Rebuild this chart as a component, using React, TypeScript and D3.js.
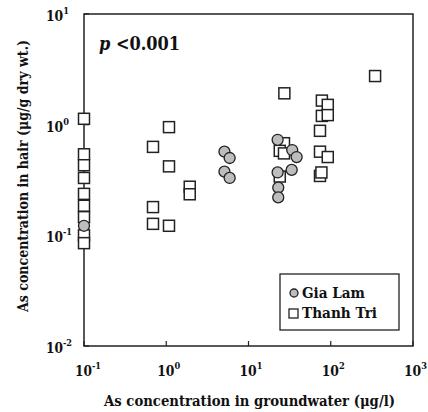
import { useEffect } from 'react'
import * as d3 from 'd3'

// Gia Lam (circles)
const giaLamX = [0.1, 5.1, 5.9, 5.1, 5.9, 22.6, 34, 38.5, 33.5, 22.6, 23, 23]
const giaLamY = [0.122, 0.57, 0.5, 0.376, 0.33, 0.73, 0.59, 0.51, 0.39, 0.37, 0.27, 0.22]

// Thanh Tri (squares)
const thanhTriX = [
  0.1, 0.1, 0.1, 0.1, 0.1, 0.1, 0.1, 0.1, 0.1,
  0.69, 1.08, 1.08, 1.93, 1.93, 0.69, 0.69, 1.08,
  27.3, 27, 24, 27, 24,
  78, 92, 78, 92, 74, 74, 92, 74, 77, 346,
]
const thanhTriY = [
  1.13, 0.54, 0.43, 0.33, 0.237, 0.185, 0.146, 0.1, 0.085,
  0.63, 0.95, 0.42, 0.275, 0.235, 0.18, 0.127, 0.122,
  1.92, 0.68, 0.58, 0.55, 0.34,
  1.65, 1.51, 1.2, 1.22, 0.88, 0.57, 0.51, 0.344, 0.37, 2.75,
]

const xTicks = [-1, 0, 1, 2, 3]
const yTicks = [1, 0, -1, -2]

const W = 428
const H = 412
const margin = { top: 14, right: 15, bottom: 66, left: 84 }
const font = "'DejaVu Serif', 'Liberation Serif', serif"

// "10" with a superscript exponent, squeezed to a Times-like width
function Pow({ x, y, e }: { x: number; y: number; e: number }) {
  const sup = String(e)
  return (
    <text
      x={x}
      y={y}
      fontSize={15}
      fontWeight="bold"
      fill="#111"
      textLength={sup.length > 1 ? 26 : 23}
      lengthAdjust="spacingAndGlyphs"
    >
      10<tspan dy={-7} fontSize={10}>{sup}</tspan>
    </text>
  )
}

export default function App() {
  useEffect(() => {
    document.body.style.margin = '0'
  }, [])

  const x = d3.scaleLog().domain([0.1, 1000]).range([margin.left, W - margin.right])
  const y = d3.scaleLog().domain([0.01, 10]).range([H - margin.bottom, margin.top])

  const sq = 11
  const r = 5.5

  return (
    <svg width={W} height={H} style={{ display: 'block', background: '#fff', fontFamily: font }}>
      {/* frame */}
      <rect
        x={x(0.1)}
        y={y(10)}
        width={x(1000) - x(0.1)}
        height={y(0.01) - y(10)}
        fill="none"
        stroke="#222"
        strokeWidth={1.5}
      />

      {/* x ticks */}
      {xTicks.map(e => (
        <g key={'x' + e}>
          <line x1={x(10 ** e)} x2={x(10 ** e)} y1={y(0.01)} y2={y(0.01) - 5} stroke="#222" strokeWidth={1.2} />
          <Pow x={x(10 ** e) - 9} y={376} e={e} />
        </g>
      ))}

      {/* y ticks */}
      {yTicks.map(e => (
        <g key={'y' + e}>
          <line x1={x(0.1)} x2={x(0.1) + 5} y1={y(10 ** e)} y2={y(10 ** e)} stroke="#222" strokeWidth={1.2} />
          <Pow x={46} y={y(10 ** e) + 7} e={e} />
        </g>
      ))}

      {/* Thanh Tri squares */}
      {thanhTriX.map((v, i) => (
        <rect
          key={'s' + i}
          x={x(v) - sq / 2}
          y={y(thanhTriY[i]) - sq / 2}
          width={sq}
          height={sq}
          fill="#fff"
          stroke="#222"
          strokeWidth={1.5}
        />
      ))}

      {/* Gia Lam circles */}
      {giaLamX.map((v, i) => (
        <circle
          key={'c' + i}
          cx={x(v)}
          cy={y(giaLamY[i])}
          r={r}
          fill="#bdbdbd"
          stroke="#222"
          strokeWidth={1.3}
        />
      ))}

      {/* p value */}
      <text x={99} y={50} fontSize={18} fontWeight="bold" fill="#111" textLength={81} lengthAdjust="spacingAndGlyphs">
        <tspan fontStyle="italic">p</tspan> &lt;0.001
      </text>

      {/* legend */}
      <rect x={280} y={274} width={119} height={56} fill="#fff" stroke="#222" strokeWidth={1.3} />
      <circle cx={294} cy={293} r={4} fill="#bdbdbd" stroke="#222" strokeWidth={1.3} />
      <text x={302} y={298} fontSize={14.5} fontWeight="bold" fill="#111" textLength={63} lengthAdjust="spacingAndGlyphs">
        Gia Lam
      </text>
      <rect x={289} y={309} width={9} height={9} fill="#fff" stroke="#222" strokeWidth={1.3} />
      <text x={302} y={318} fontSize={14.5} fontWeight="bold" fill="#111" textLength={75} lengthAdjust="spacingAndGlyphs">
        Thanh Tri
      </text>

      {/* axis titles */}
      <text
        x={104}
        y={406}
        fontSize={14}
        fontWeight="bold"
        fill="#111"
        textLength={291}
        lengthAdjust="spacingAndGlyphs"
      >
        As concentration in groundwater (μg/l)
      </text>
      <text
        transform={`translate(28, ${312}) rotate(-90)`}
        fontSize={14}
        fontWeight="bold"
        fill="#111"
        textLength={272}
        lengthAdjust="spacingAndGlyphs"
      >
        As concentration in hair (μg/g dry wt.)
      </text>
    </svg>
  )
}
